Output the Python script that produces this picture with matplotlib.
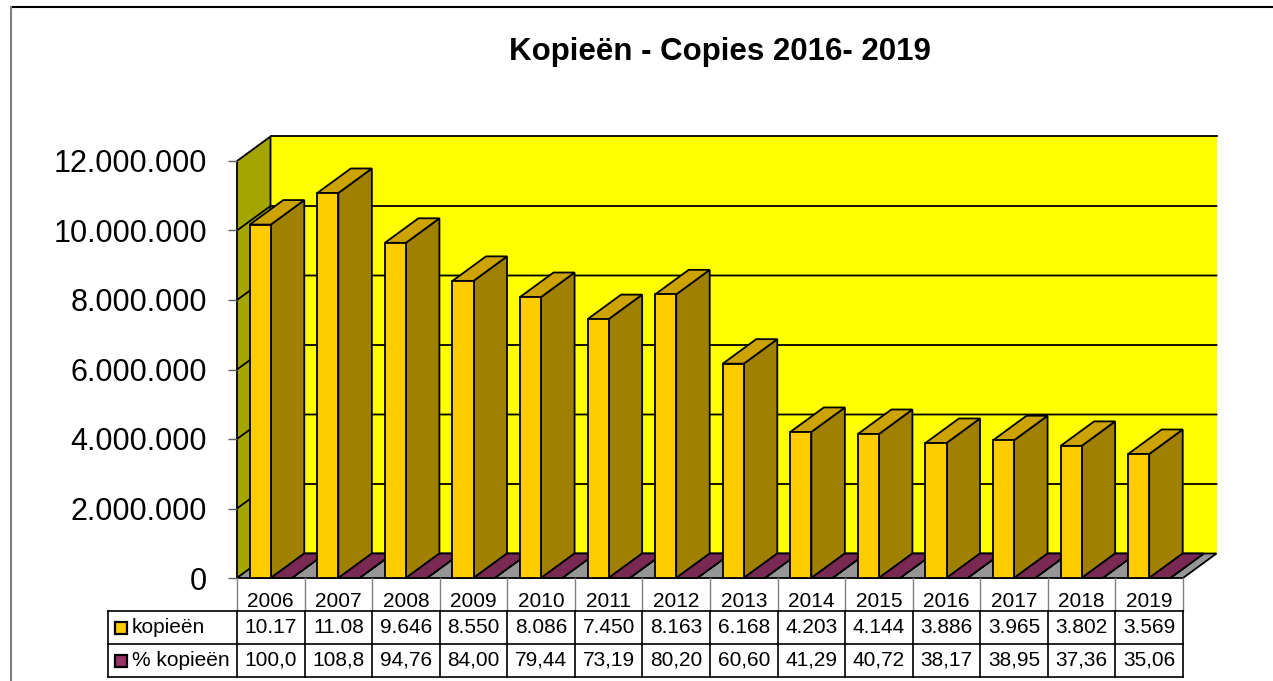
import matplotlib.pyplot as plt
from matplotlib.lines import Line2D
from matplotlib.patches import Polygon
from matplotlib.transforms import blended_transform_factory

plt.rcParams["font.family"] = ["Liberation Sans", "DejaVu Sans"]

# data
years = ["2006", "2007", "2008", "2009", "2010", "2011", "2012",
         "2013", "2014", "2015", "2016", "2017", "2018", "2019"]
copies = [10_170_000, 11_080_000, 9_646_000, 8_550_000, 8_086_000, 7_450_000, 8_163_000,
          6_168_000, 4_203_000, 4_144_000, 3_886_000, 3_965_000, 3_802_000, 3_569_000]
copies_pct = [100.0, 108.8, 94.76, 84.00, 79.44, 73.19, 80.20,
              60.60, 41.29, 40.72, 38.17, 38.95, 37.36, 35.06]
series_names = ["kopieën", "% kopieën"]
title = "Kopieën - Copies 2016- 2019"
y_max = 12_000_000
y_step = 2_000_000

# colours (front, top, side)
yellow = ("#FFCC00", "#CCA300", "#A08000")
plum = ("#993366", "#7A2952", "#602040")
wall_back = "#FFFF00"
wall_side = "#A5A500"
floor_col = "#969696"

W, H = 1273, 681
fig = plt.figure(figsize=(W / 100, H / 100), dpi=100)
ax = fig.add_axes([237 / W, 103 / H, 946 / W, 417 / H])
n = len(years)
ax.set_xlim(0, n)
ax.set_ylim(0, y_max)
ax.patch.set_visible(False)
for s in ax.spines.values():
    s.set_visible(False)

# 3d depth offset in data units
dx = 33.5 / 946 * n
dy = 24.5 / 417 * y_max
lw = 1.3


def poly(pts, fc, ec="black", lw=lw, z=1):
    ax.add_patch(Polygon(pts, closed=True, facecolor=fc, edgecolor=ec,
                         linewidth=lw, clip_on=False, zorder=z, joinstyle="miter"))


# walls + floor
poly([(dx, dy), (n + dx, dy), (n + dx, y_max + dy), (dx, y_max + dy)], wall_back, ec="none")
ax.plot([dx, n + dx], [y_max + dy] * 2, color="black", lw=lw, clip_on=False, zorder=1.5)
poly([(0, 0), (dx, dy), (dx, y_max + dy), (0, y_max)], wall_side)
poly([(0, 0), (n, 0), (n + dx, dy), (dx, dy)], floor_col)

ticks = list(range(0, y_max + 1, y_step))
for v in ticks[1:-1]:
    ax.plot([0, dx, n + dx], [v, v + dy, v + dy], color="black", lw=lw,
            clip_on=False, zorder=1.5)


def bar3d(x0, w, h, cols):
    front, top, side = cols
    poly([(x0 + w, 0), (x0 + w + dx, dy), (x0 + w + dx, h + dy), (x0 + w, h)], side, z=2)
    poly([(x0, h), (x0 + w, h), (x0 + w + dx, h + dy), (x0 + dx, h + dy)], top, z=2)
    poly([(x0, 0), (x0 + w, 0), (x0 + w, h), (x0, h)], front, z=2)


bw = 0.311
off = (1 - 2 * bw) / 2
for i in range(n):
    bar3d(i + off, bw, copies[i], yellow)
    bar3d(i + off + bw, bw, copies_pct[i], plum)

# y axis
ax.set_yticks(ticks)
ax.set_yticklabels([f"{v:,}".replace(",", ".") for v in ticks], fontsize=22)
ax.tick_params(axis="y", length=6.5, width=1, color="#606060", pad=15)
ax.set_xticks([])

# data table
tr = blended_transform_factory(ax.transData, ax.transAxes)
r0, r1, r2, r3 = 0, -33 / 417, -66 / 417, -99 / 417
left = -1.909
for i in range(n + 1):
    ax.add_line(Line2D([i, i], [r0, r1], transform=tr, color="#808080", lw=1, clip_on=False))
    ax.add_line(Line2D([i, i], [r1, r3], transform=tr, color="black", lw=1.2, clip_on=False))
ax.add_line(Line2D([left, left], [r1, r3], transform=tr, color="black", lw=1.2, clip_on=False))
for y in (r1, r2, r3):
    ax.add_line(Line2D([left, n], [y, y], transform=tr, color="black", lw=1.2, clip_on=False))

fs = 15
copies_lbl = [f"{v / 1e6:#.4g}" for v in copies]
pct_lbl = [f"{v:#.4g}".replace(".", ",") for v in copies_pct]
for i in range(n):
    ax.text(i + 0.5, -23.5 / 417, years[i], transform=tr, ha="center", va="center", fontsize=fs)
    ax.text(i + 0.5, (r1 + r2) / 2, copies_lbl[i], transform=tr, ha="center", va="center", fontsize=fs)
    ax.text(i + 0.5, (r2 + r3) / 2, pct_lbl[i], transform=tr, ha="center", va="center", fontsize=fs)

for (ya, yb), name, cols in zip([(r1, r2), (r2, r3)], series_names, [yellow, plum]):
    yc = (ya + yb) / 2
    ax.plot([-1.717], [yc], marker="s", markersize=8, markerfacecolor=cols[0],
            markeredgecolor="black", markeredgewidth=1.6, transform=tr, clip_on=False)
    ax.text(-1.554, yc, name, transform=tr, ha="left", va="center", fontsize=fs)

fig.text(720 / W, 1 - 60 / H, title, ha="center", va="baseline", fontsize=22.5, fontweight="bold")

# chart border
fig.add_artist(Line2D([11 / W, 1], [1 - 7 / H] * 2, color="black", lw=1.5))
fig.add_artist(Line2D([11 / W, 11 / W], [0, 1 - 7 / H], color="#808080", lw=1.5))

fig.savefig("out.png", dpi=100)
